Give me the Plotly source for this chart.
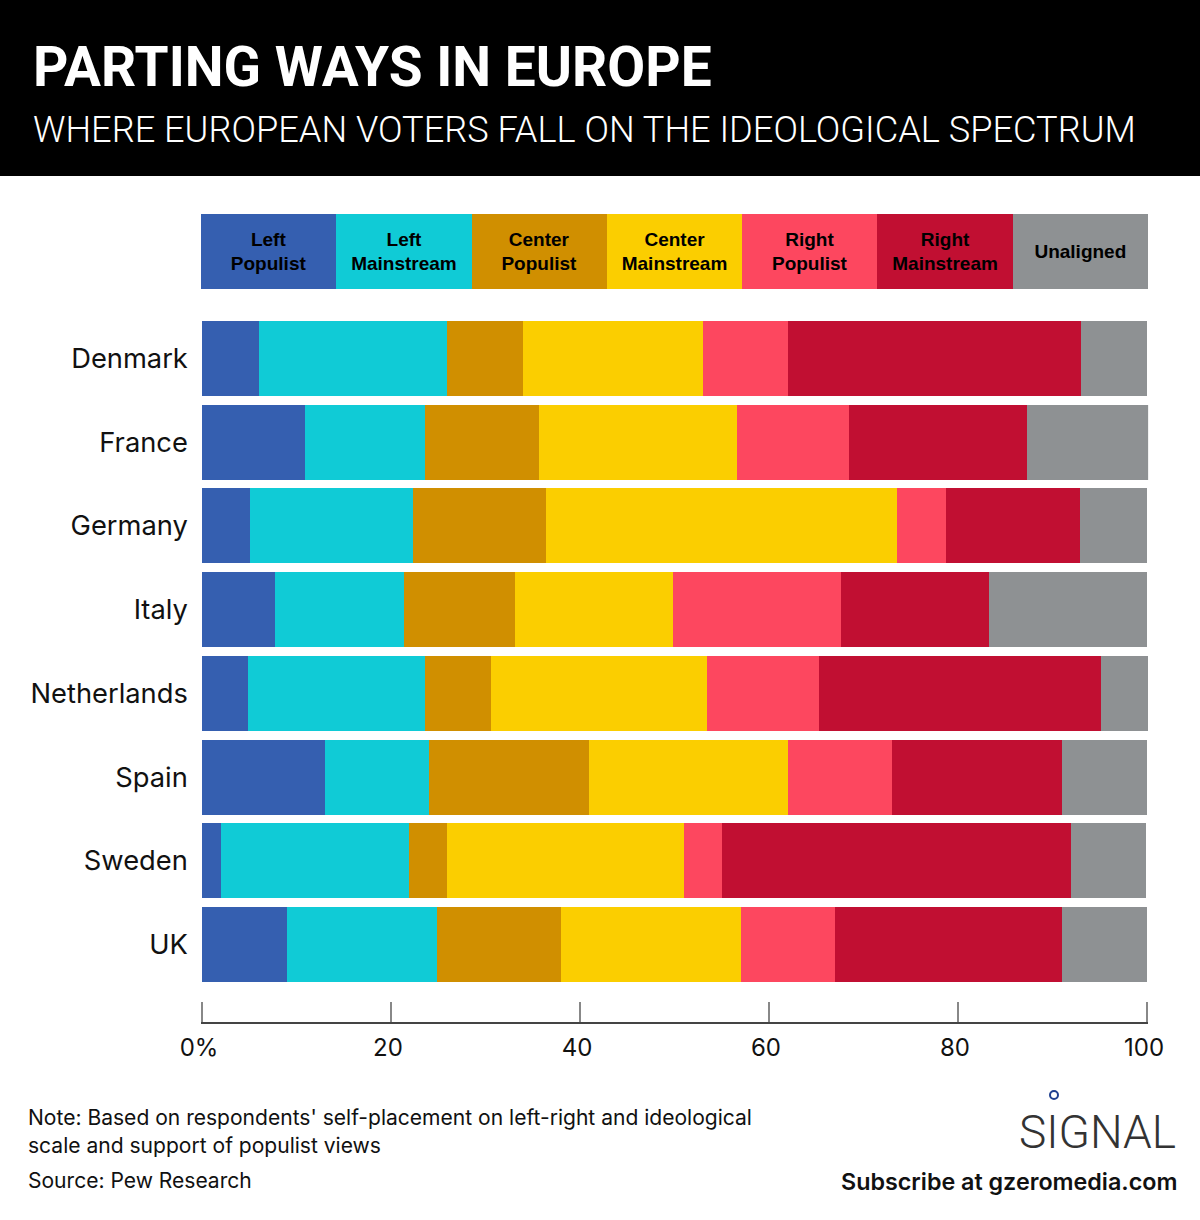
import plotly.graph_objects as go

W = 1200
H = 1220

countries = ["Denmark", "France", "Germany", "Italy", "Netherlands", "Spain", "Sweden", "UK"]
left_populist = [6.0, 10.9, 5.1, 7.7, 4.9, 13.0, 2.0, 9.0]
left_mainstream = [19.9, 12.7, 17.2, 13.7, 18.7, 11.0, 19.9, 15.9]
center_populist = [8.1, 12.1, 14.1, 11.7, 7.0, 16.9, 4.0, 13.1]
center_mainstream = [19.0, 20.9, 37.1, 16.7, 22.8, 21.1, 25.1, 19.0]
right_populist = [9.0, 11.9, 5.2, 17.8, 11.9, 11.0, 4.0, 10.0]
right_mainstream = [31.0, 18.8, 14.2, 15.7, 29.8, 18.0, 37.0, 24.0]
unaligned = [7.0, 12.9, 7.1, 16.7, 5.0, 9.0, 7.9, 9.0]

series = [left_populist, left_mainstream, center_populist, center_mainstream,
          right_populist, right_mainstream, unaligned]
series_names = ["Left<br>Populist", "Left<br>Mainstream", "Center<br>Populist", "Center<br>Mainstream",
                "Right<br>Populist", "Right<br>Mainstream", "Unaligned"]
colors = ["#355fb0", "#10cbd6", "#d08f00", "#fbce00", "#fd475f", "#c10f32", "#8e9193"]

tick_vals = [0, 20, 40, 60, 80, 100]
tick_text = ["0%", "20", "40", "60", "80", "100"]

fig = go.Figure()

for name, values, color in zip(series_names, series, colors):
    fig.add_trace(go.Bar(x=values, y=countries, orientation="h", width=0.896, cliponaxis=False,
                         marker=dict(color=color, line_width=0),
                         name=name.replace("<br>", " "), hoverinfo="x+y"))

# the legend strip is a one row stacked bar on its own axes
for name, color in zip(series_names, colors):
    fig.add_trace(go.Bar(x=[1], y=["key"], orientation="h", width=1,
                         xaxis="x2", yaxis="y2",
                         marker=dict(color=color, line_width=0),
                         text=[name], textposition="inside", insidetextanchor="middle",
                         textangle=0, constraintext="none",
                         textfont=dict(family="Liberation Sans", size=19, color="#000000", weight=700),
                         hoverinfo="skip"))


def note(text, x, y, size, family="Inter", color="#111111", weight=400, anchor="left"):
    fig.add_annotation(text=text, x=x / W, y=1 - y / H, xref="paper", yref="paper",
                       xanchor=anchor, yanchor="middle", showarrow=False, align="left",
                       font=dict(family=family, size=size, color=color, weight=weight))


note("PARTING WAYS IN EUROPE", 31, 67, 55, "Roboto", "#ffffff", 700)
note("WHERE EUROPEAN VOTERS FALL ON THE IDEOLOGICAL SPECTRUM", 31, 129, 36.2, "Roboto", "#ffffff", 300)
note("Note: Based on respondents' self-placement on left-right and ideological", 26, 1117, 21.05)
note("scale and support of populist views", 26, 1145, 21.05)
note("Source: Pew Research", 26, 1180, 21.05)
note("SIGNAL", 1178, 1132, 46, "Roboto", "#333333", 300, "right")
note("Subscribe at gzeromedia.com", 1180, 1181, 23.3, "Inter", "#111111", 600, "right")

fig.add_shape(type="rect", xref="paper", yref="paper", x0=0, x1=1, y0=1 - 176 / H, y1=1,
              fillcolor="#000000", line_width=0, layer="below")
fig.add_shape(type="circle", xref="paper", yref="paper", x0=1050 / W, x1=1058 / W,
              y0=1 - 1099 / H, y1=1 - 1091 / H, fillcolor="#ffffff",
              line=dict(color="#1f3f8f", width=2))

fig.update_layout(
    width=W, height=H, margin=dict(l=0, r=0, t=0, b=0),
    paper_bgcolor="#ffffff", plot_bgcolor="#ffffff",
    barmode="stack", showlegend=False,
    font=dict(family="Inter", color="#111111"),
    # small overshoot on the range, plotly drops inside ticks sitting on the very ends
    xaxis=dict(domain=[200.87 / W, 1148.13 / W], range=[-0.12, 100.12], automargin=False,
               tickvals=tick_vals, ticktext=tick_text,
               ticks="inside", ticklen=20, tickcolor="#888888", tickwidth=1.5,
               showline=True, linecolor="#444444", linewidth=1.5, showgrid=False, zeroline=False,
               tickfont=dict(size=24), ticklabelstandoff=3, ticklabelshift=-3),
    yaxis=dict(domain=[1 - 1022 / H, 1 - 316.6 / H], range=[7.926, -0.5], type="category", automargin=False,
               categoryorder="array", categoryarray=countries,
               ticks="", showline=False, showgrid=False, zeroline=False,
               tickfont=dict(size=27.3), ticklabelstandoff=12),
    xaxis2=dict(domain=[201 / W, 1148 / W], range=[0, 7], anchor="y2", visible=False, automargin=False),
    yaxis2=dict(domain=[1 - 289 / H, 1 - 214 / H], anchor="x2", visible=False, type="category", automargin=False),
)

fig.write_html("out.html", config={"displayModeBar": False},
               post_script="document.body.style.margin = '0';")
